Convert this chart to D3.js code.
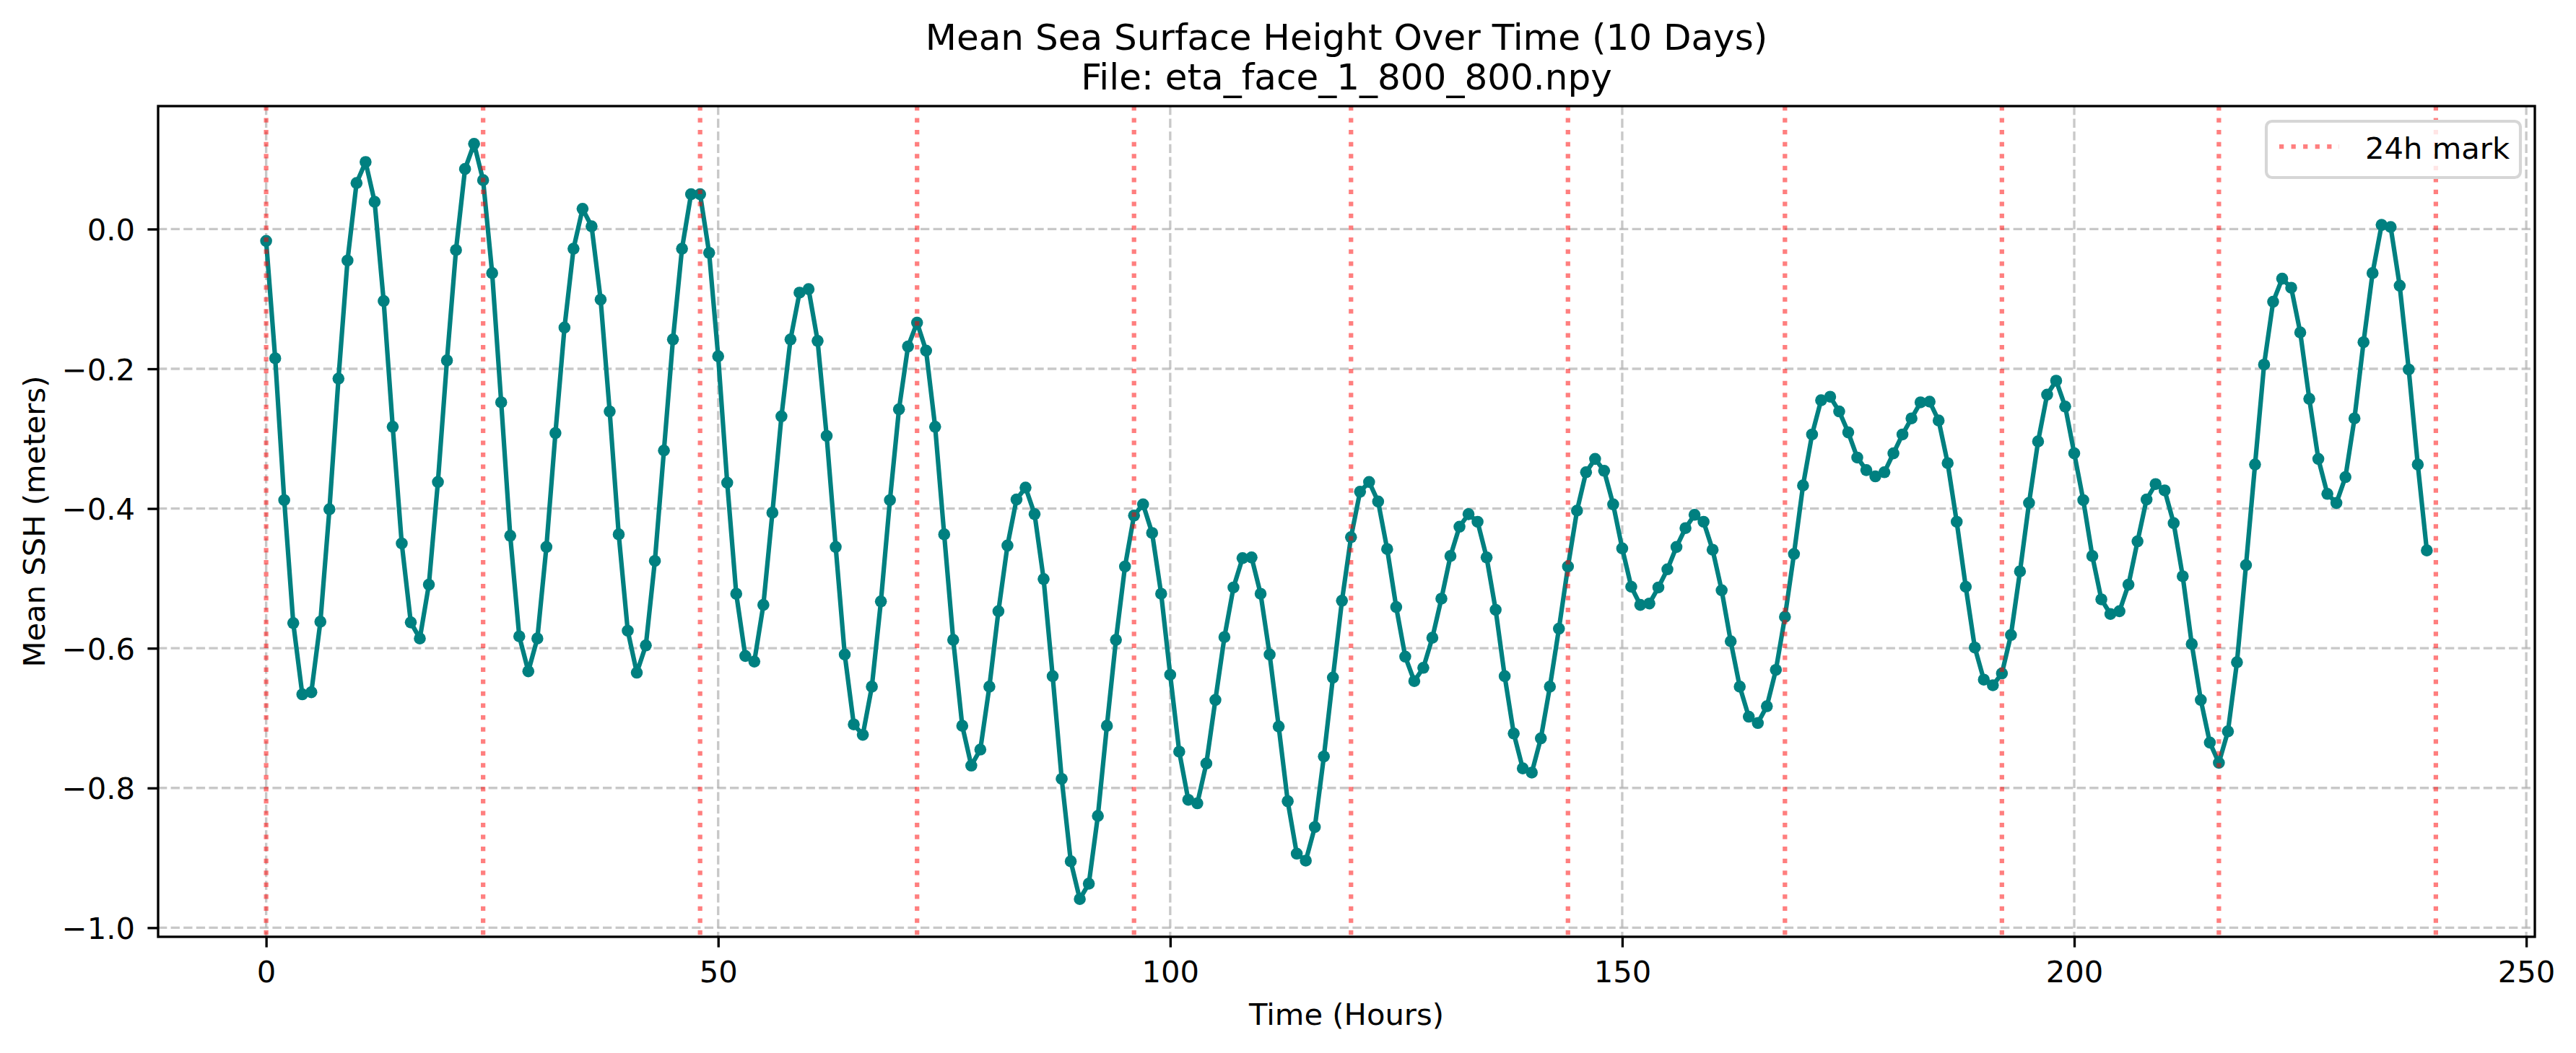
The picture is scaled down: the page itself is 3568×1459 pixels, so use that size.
<!DOCTYPE html>
<html>
<head>
<meta charset="utf-8">
<script src="https://cdn.jsdelivr.net/npm/d3@7"></script>
<style>
  html, body { margin: 0; padding: 0; background: #ffffff; }
  svg { display: block; }
  text { font-family: "DejaVu Sans", sans-serif; fill: #000; }
</style>
</head>
<body>
<svg id="chart" width="3568" height="1459"></svg>
<script>
// ---------------- DATA ----------------
const titleLines = ["Mean Sea Surface Height Over Time (10 Days)", "File: eta_face_1_800_800.npy"];
const xLabel = "Time (Hours)";
const yLabel = "Mean SSH (meters)";
const legendLabel = "24h mark";

// hourly mean SSH (meters), hours 0..239
const sshValues = [
  -0.017, -0.185, -0.388, -0.564, -0.666, -0.663, -0.562, -0.401, -0.214, -0.045,
   0.066,  0.096,  0.039, -0.103, -0.283, -0.450, -0.563, -0.586, -0.509, -0.362,
  -0.188, -0.030,  0.086,  0.122,  0.070, -0.063, -0.248, -0.439, -0.583, -0.633,
  -0.586, -0.455, -0.292, -0.141, -0.028,  0.029,  0.004, -0.101, -0.261, -0.437,
  -0.575, -0.635, -0.596, -0.475, -0.317, -0.158, -0.028,  0.050,  0.050, -0.034,
  -0.182, -0.363, -0.522, -0.611, -0.619, -0.538, -0.406, -0.268, -0.158, -0.091,
  -0.086, -0.160, -0.296, -0.455, -0.609, -0.709, -0.724, -0.655, -0.533, -0.388,
  -0.258, -0.168, -0.134, -0.174, -0.283, -0.437, -0.588, -0.711, -0.768, -0.745,
  -0.655, -0.547, -0.453, -0.387, -0.370, -0.408, -0.501, -0.640, -0.787, -0.905,
  -0.959, -0.937, -0.840, -0.711, -0.588, -0.483, -0.410, -0.394, -0.435, -0.522,
  -0.638, -0.748, -0.817, -0.822, -0.765, -0.674, -0.584, -0.513, -0.471, -0.470,
  -0.522, -0.609, -0.712, -0.819, -0.894, -0.904, -0.856, -0.755, -0.642, -0.532,
  -0.441, -0.376, -0.362, -0.390, -0.458, -0.541, -0.612, -0.647, -0.628, -0.585,
  -0.529, -0.468, -0.426, -0.408, -0.419, -0.470, -0.545, -0.640, -0.722, -0.772,
  -0.778, -0.729, -0.655, -0.572, -0.483, -0.403, -0.348, -0.329, -0.346, -0.394,
  -0.457, -0.512, -0.538, -0.536, -0.513, -0.487, -0.455, -0.428, -0.409, -0.419,
  -0.459, -0.517, -0.590, -0.655, -0.698, -0.707, -0.683, -0.631, -0.555, -0.465,
  -0.367, -0.294, -0.245, -0.240, -0.261, -0.291, -0.327, -0.345, -0.354, -0.348,
  -0.321, -0.294, -0.271, -0.248, -0.247, -0.274, -0.335, -0.419, -0.512, -0.599,
  -0.645, -0.653, -0.636, -0.581, -0.490, -0.392, -0.304, -0.237, -0.217, -0.254,
  -0.321, -0.388, -0.468, -0.530, -0.551, -0.547, -0.509, -0.447, -0.387, -0.365,
  -0.374, -0.421, -0.497, -0.594, -0.674, -0.735, -0.764, -0.719, -0.620, -0.481,
  -0.337, -0.194, -0.104, -0.071, -0.084, -0.148, -0.243, -0.329, -0.379, -0.392,
  -0.355, -0.271, -0.162, -0.063,  0.006,  0.003, -0.081, -0.201, -0.337, -0.460
];
const hours = sshValues.map((_, i) => i);

const xTickValues = [0, 50, 100, 150, 200, 250];
const yTickValues = [0.0, -0.2, -0.4, -0.6, -0.8, -1.0];
const dayMarks = [0, 24, 48, 72, 96, 120, 144, 168, 192, 216, 240];

// ---------------- LAYOUT ----------------
const W = 3568, H = 1459;
const plot = { left: 219, right: 3511, top: 147, bottom: 1298 };
const FS = 41.7;      // 10pt @ 300dpi
const TFS = 50;       // 12pt @ 300dpi
const teal = "#008080";

const svg = d3.select("#chart");
svg.append("rect").attr("width", W).attr("height", H).attr("fill", "#ffffff");

const xExt = d3.extent(hours), xPad = (xExt[1] - xExt[0]) * 0.05;
const yExt = d3.extent(sshValues), yPad = (yExt[1] - yExt[0]) * 0.05;

const x = d3.scaleLinear().domain([xExt[0] - xPad, xExt[1] + xPad]).range([plot.left, plot.right]);
const y = d3.scaleLinear().domain([yExt[0] - yPad, yExt[1] + yPad]).range([plot.bottom, plot.top]);

// ---------------- GRID ----------------
const grid = svg.append("g").attr("class", "grid")
  .attr("stroke", "#b0b0b0").attr("stroke-opacity", 0.7)
  .attr("stroke-width", 3.33).attr("stroke-dasharray", "12.3,5.3").attr("fill", "none");
grid.selectAll("line.gx").data(xTickValues).join("line").attr("class", "gx")
  .attr("x1", d => x(d)).attr("x2", d => x(d))
  .attr("y1", plot.top).attr("y2", plot.bottom);
grid.selectAll("line.gy").data(yTickValues).join("line").attr("class", "gy")
  .attr("x1", plot.left).attr("x2", plot.right)
  .attr("y1", d => y(d)).attr("y2", d => y(d));

// ---------------- DATA LINE ----------------
const line = d3.line().x((d, i) => x(hours[i])).y(d => y(d));
svg.append("path").datum(sshValues)
  .attr("d", line).attr("fill", "none").attr("stroke", teal)
  .attr("stroke-width", 6.25).attr("stroke-linejoin", "round");
svg.append("g").selectAll("circle").data(sshValues).join("circle")
  .attr("cx", (d, i) => x(hours[i])).attr("cy", d => y(d))
  .attr("r", 8.3).attr("fill", teal);

// ---------------- 24h MARKS ----------------
svg.append("g").selectAll("line").data(dayMarks).join("line")
  .attr("x1", d => x(d)).attr("x2", d => x(d))
  .attr("y1", plot.top).attr("y2", plot.bottom)
  .attr("stroke", "red").attr("stroke-opacity", 0.5)
  .attr("stroke-width", 6.25).attr("stroke-dasharray", "6.25,10.3");

// ---------------- AXES ----------------
const xAxis = d3.axisBottom(x).tickValues(xTickValues).tickFormat(d3.format("d"))
  .tickSizeInner(14.6).tickSizeOuter(0).tickPadding(14.6);
const gx = svg.append("g").attr("transform", `translate(0,${plot.bottom})`).call(xAxis);
gx.select(".domain").remove();
gx.selectAll(".tick line").attr("stroke", "#000").attr("stroke-width", 3.33);
gx.selectAll(".tick text").attr("font-size", FS).attr("font-family", "DejaVu Sans")
  .attr("dy", null).attr("y", 63);

const yAxis = d3.axisLeft(y).tickValues(yTickValues).tickFormat(d3.format(".1f"))
  .tickSizeInner(14.6).tickSizeOuter(0).tickPadding(14.6);
const gy = svg.append("g").attr("transform", `translate(${plot.left},0)`).call(yAxis);
gy.select(".domain").remove();
gy.selectAll(".tick line").attr("stroke", "#000").attr("stroke-width", 3.33);
gy.selectAll(".tick text").attr("font-size", FS).attr("font-family", "DejaVu Sans")
  .attr("dy", "0.36em").attr("x", -32);

// spines
svg.append("rect")
  .attr("x", plot.left).attr("y", plot.top)
  .attr("width", plot.right - plot.left).attr("height", plot.bottom - plot.top)
  .attr("fill", "none").attr("stroke", "#000").attr("stroke-width", 3.33);

// ---------------- LEGEND ----------------
const lg = svg.append("g");
lg.append("rect").attr("x", 3139).attr("y", 168).attr("width", 352).attr("height", 78)
  .attr("rx", 8).attr("ry", 8)
  .attr("fill", "#ffffff").attr("fill-opacity", 0.8)
  .attr("stroke", "#d6d6d6").attr("stroke-width", 4.17);
lg.append("line").attr("x1", 3157).attr("x2", 3240).attr("y1", 203).attr("y2", 203)
  .attr("stroke", "red").attr("stroke-opacity", 0.5)
  .attr("stroke-width", 6.25).attr("stroke-dasharray", "6.25,10.3");
lg.append("text").attr("x", 3276).attr("y", 220).attr("font-size", FS).text(legendLabel);

// ---------------- LABELS ----------------
const cx = (plot.left + plot.right) / 2;
svg.append("text").attr("x", cx).attr("y", 1420).attr("text-anchor", "middle")
  .attr("font-size", FS).text(xLabel);
svg.append("text")
  .attr("transform", `translate(62,${(plot.top + plot.bottom) / 2}) rotate(-90)`)
  .attr("text-anchor", "middle").attr("font-size", FS).text(yLabel);

svg.append("g").selectAll("text").data(titleLines).join("text")
  .attr("x", cx).attr("y", (d, i) => 68.5 + i * 55.5)
  .attr("text-anchor", "middle").attr("font-size", TFS).text(d => d);
</script>
</body>
</html>
